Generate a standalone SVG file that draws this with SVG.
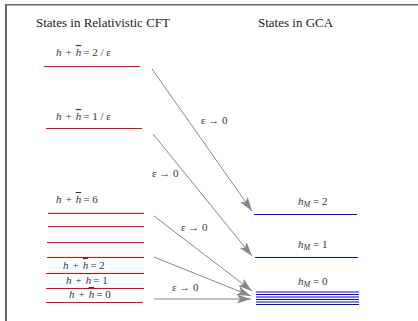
<svg xmlns="http://www.w3.org/2000/svg" width="418" height="321" viewBox="0 0 418 321">
<style>
.title{font-family:"Liberation Serif","Times New Roman",serif;font-size:13px;fill:#222}
.m{font-family:"Liberation Serif","Times New Roman",serif;font-size:11px;fill:#333}
.i{font-style:italic}
.ov{text-decoration:overline}
.red{stroke:#ff0000;stroke-width:1.2}
.blue{stroke:#0000ff;stroke-width:1.2}
.arr{stroke:#888;stroke-width:1;fill:none;marker-end:url(#ah)}
.bg{fill:#fff}
</style>
<defs>
<marker id="ah" markerUnits="userSpaceOnUse" markerWidth="15" markerHeight="10" refX="14" refY="4.5" orient="auto">
<path d="M0,0 L14,4.5 L0,9 L3,4.5 z" fill="#888"/>
</marker>
</defs>
<rect width="418" height="321" fill="#fff"/>
<g id="frame">
<line x1="6" y1="4.8" x2="418" y2="4.8" stroke="#666" stroke-width="1.6"/>
<line x1="6" y1="4" x2="6" y2="321" stroke="#666" stroke-width="2"/>
</g>
<g id="titles">
<text class="title" x="36" y="27">States in Relativistic CFT</text>
<text class="title" x="258" y="27">States in GCA</text>
</g>
<g id="connectors">
<line class="arr" x1="152" y1="69" x2="252" y2="211"/>
<line class="arr" x1="153" y1="134" x2="252" y2="256"/>
<line class="arr" x1="154" y1="216" x2="252" y2="291"/>
<line class="arr" x1="154" y1="257" x2="251" y2="296"/>
<line class="arr" x1="154" y1="299" x2="251" y2="299"/>
<text class="m" x="201" y="124">ε → 0</text>
<text class="m" x="152" y="177">ε → 0</text>
<text class="m" x="181" y="231">ε → 0</text>
<text class="m" x="172" y="291">ε → 0</text>
</g>
<g id="cft-states">
<g id="s-2eps">
<line class="red" x1="44" y1="66.5" x2="140" y2="66.5"/>
<text class="m" x="56" y="56"><tspan class="i">h</tspan><tspan dx="4">+</tspan><tspan class="i ov" dx="4">h</tspan><tspan dx="2">= 2 / ε</tspan></text>
</g>
<g id="s-1eps">
<line class="red" x1="46" y1="128.5" x2="142" y2="128.5"/>
<text class="m" x="56" y="120"><tspan class="i">h</tspan><tspan dx="4">+</tspan><tspan class="i ov" dx="4">h</tspan><tspan dx="2">= 1 / ε</tspan></text>
</g>
<g id="s-6">
<line class="red" x1="48" y1="213.5" x2="144" y2="213.5"/>
<text class="m" x="56" y="203"><tspan class="i">h</tspan><tspan dx="4">+</tspan><tspan class="i ov" dx="4">h</tspan><tspan dx="2">= 6</tspan></text>
</g>
<g id="s-5"><line class="red" x1="48" y1="226.5" x2="144" y2="226.5"/></g>
<g id="s-4"><line class="red" x1="47" y1="242.5" x2="144" y2="242.5"/></g>
<g id="s-3"><line class="red" x1="47" y1="257.5" x2="144" y2="257.5"/></g>
<g id="s-2">
<line class="red" x1="46" y1="273.5" x2="144" y2="273.5"/>
</g>
<g id="s-1">
<line class="red" x1="46" y1="288.5" x2="144" y2="288.5"/>
</g>
<g id="s-0">
<line class="red" x1="46" y1="302.5" x2="143" y2="302.5"/>
</g>
<rect class="bg" x="63" y="260" width="46" height="11"/>
<text class="m" x="63" y="269"><tspan class="i">h</tspan><tspan dx="4">+</tspan><tspan class="i ov" dx="4">h</tspan><tspan dx="2">= 2</tspan></text>
<rect class="bg" x="64" y="275" width="48" height="11.5"/>
<text class="m" x="66" y="284"><tspan class="i">h</tspan><tspan dx="4">+</tspan><tspan class="i ov" dx="4">h</tspan><tspan dx="2">= 1</tspan></text>
<rect class="bg" x="68" y="290" width="46" height="10"/>
<text class="m" x="69" y="298"><tspan class="i">h</tspan><tspan dx="4">+</tspan><tspan class="i ov" dx="4">h</tspan><tspan dx="2">= 0</tspan></text>
</g>
<g id="gca-states">
<g id="g-2">
<line class="blue" x1="254" y1="214.5" x2="357" y2="214.5"/>
<text class="m" x="298" y="205"><tspan class="i">h</tspan><tspan class="i" font-size="8" dy="2">M</tspan><tspan dy="-2"> = 2</tspan></text>
</g>
<g id="g-1">
<line class="blue" x1="255" y1="257.5" x2="358" y2="257.5"/>
<text class="m" x="298" y="248"><tspan class="i">h</tspan><tspan class="i" font-size="8" dy="2">M</tspan><tspan dy="-2"> = 1</tspan></text>
</g>
<g id="g-0">
<line class="blue" x1="256" y1="292" x2="359" y2="292"/>
<line class="blue" x1="256" y1="294.5" x2="359" y2="294.5"/>
<line class="blue" x1="256" y1="297" x2="359" y2="297"/>
<line class="blue" x1="256" y1="299.5" x2="359" y2="299.5"/>
<line class="blue" x1="256" y1="302" x2="359" y2="302"/>
<line class="blue" x1="256" y1="304.5" x2="359" y2="304.5"/>
<text class="m" x="298" y="285"><tspan class="i">h</tspan><tspan class="i" font-size="8" dy="2">M</tspan><tspan dy="-2"> = 0</tspan></text>
</g>
</g>
</svg>
